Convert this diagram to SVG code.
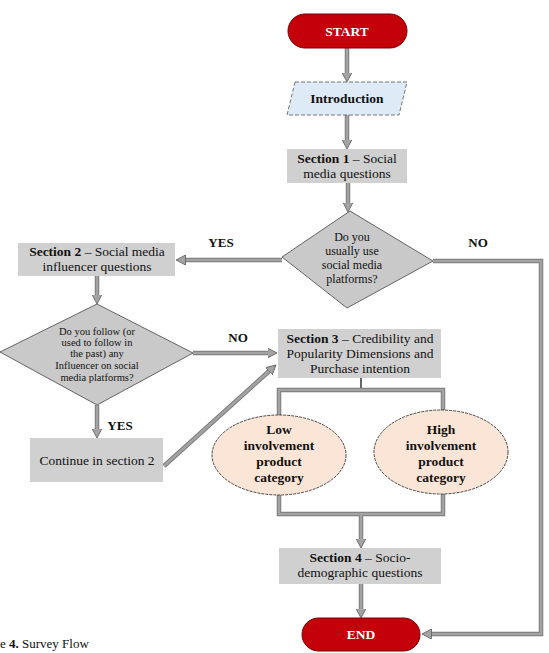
<svg xmlns="http://www.w3.org/2000/svg" width="549" height="653" viewBox="0 0 549 653">
<style>
text{font-family:"Liberation Serif","Times New Roman",serif;fill:#111;text-anchor:middle}
.b{font-weight:bold}
.t13{font-size:13.5px}
.t12{font-size:12px}
.t10{font-size:10.5px}
.term{fill:#c4000a;stroke:#7a0000;stroke-width:1}
.termtxt{fill:#fff;font-weight:bold;font-size:13.5px}
.box{fill:#d0d0d0}
.dia{fill:#c9c9c9;stroke:#444;stroke-width:0.8}
.ell{fill:#fbe5d6;stroke:#333;stroke-width:0.9;stroke-dasharray:3 1}
.par{fill:#deebf7;stroke:#555;stroke-width:0.8;stroke-dasharray:4 2}
.o{fill:none;stroke:#7a7a7a;stroke-width:4.5}
.i{fill:none;stroke:#a3a3a3;stroke-width:2.6}
.lbl{font-weight:bold;font-size:13px}
</style>
<defs>
<marker id="ah" viewBox="0 0 10 10" refX="0.5" refY="5" markerWidth="10" markerHeight="10" markerUnits="userSpaceOnUse" orient="auto">
<path d="M0,0 L9.5,5 L0,10 z" fill="#a3a3a3" stroke="#5a5a5a" stroke-width="0.8"/>
</marker>
</defs>

<g id="connectors">
<path class="o" d="M347,48 V73"/><path class="i" d="M347,48 V73" marker-end="url(#ah)"/>
<path class="o" d="M347,115 V140"/><path class="i" d="M347,115 V140" marker-end="url(#ah)"/>
<path class="o" d="M348,183 V203"/><path class="i" d="M348,183 V203" marker-end="url(#ah)"/>
<path class="o" d="M282,260 H185"/><path class="i" d="M282,260 H185" marker-end="url(#ah)"/>
<path class="o" d="M433,261 H541 V634 H431"/><path class="i" d="M433,261 H541 V634 H431" marker-end="url(#ah)"/>
<path class="o" d="M97,276 V295"/><path class="i" d="M97,276 V295" marker-end="url(#ah)"/>
<path class="o" d="M193,353 H268"/><path class="i" d="M193,353 H268" marker-end="url(#ah)"/>
<path class="o" d="M97,405 V429"/><path class="i" d="M97,405 V429" marker-end="url(#ah)"/>
<path class="o" d="M164,466 L269.3,371"/><path class="i" d="M164,466 L269.3,371" marker-end="url(#ah)"/>
<path d="M361,378 V390" stroke="#333" stroke-width="1.5"/>
<path class="o" d="M279,415 V390 H443 V410"/><path class="i" d="M279,415 V390 H443 V410"/>
<path class="o" d="M279,495 V514 H443 V494 M361,514 V539"/><path class="i" d="M279,495 V514 H443 V494"/>
<path class="i" d="M361,514 V539" marker-end="url(#ah)"/>
<path class="o" d="M361,584 V609"/><path class="i" d="M361,584 V609" marker-end="url(#ah)"/>
<text class="lbl" x="221" y="247">YES</text>
<text class="lbl" x="478" y="247">NO</text>
<text class="lbl" x="238" y="342">NO</text>
<text class="lbl" x="120" y="430">YES</text>
</g>

<g id="start">
<rect class="term" x="288" y="14" width="119" height="34" rx="17"/>
<text class="termtxt" x="347" y="36">START</text>
</g>

<g id="introduction">
<polygon class="par" points="295,82 407,82 399,115 287,115"/>
<text class="t13 b" x="347" y="103">Introduction</text>
</g>

<g id="section1">
<rect class="box" x="287" y="149" width="120" height="34"/>
<text class="t13" x="347" y="163"><tspan class="b">Section 1</tspan> – Social</text>
<text class="t13" x="347" y="178">media questions</text>
</g>

<g id="decision1">
<polygon class="dia" points="350,211 433,261 347,308 282,257"/>
<text class="t12" x="352" y="241">Do you</text>
<text class="t12" x="352" y="255">usually use</text>
<text class="t12" x="352" y="269">social media</text>
<text class="t12" x="352" y="283">platforms?</text>
</g>

<g id="section2">
<rect class="box" x="18" y="243" width="157" height="33"/>
<text class="t13" x="97" y="256"><tspan class="b">Section 2</tspan> – Social media</text>
<text class="t13" x="97" y="271">influencer questions</text>
</g>

<g id="decision2">
<polygon class="dia" points="97,304 193,353 97,405 0,352"/>
<text class="t10" x="97" y="335">Do you follow (or</text>
<text class="t10" x="97" y="346">used to follow in</text>
<text class="t10" x="97" y="357">the past) any</text>
<text class="t10" x="97" y="369">Influencer on social</text>
<text class="t10" x="97" y="381">media platforms?</text>
</g>

<g id="continue">
<rect class="box" x="30" y="438" width="133" height="44"/>
<text class="t13" x="97" y="465">Continue in section 2</text>
</g>

<g id="section3">
<rect class="box" x="278" y="329" width="163" height="49"/>
<text class="t13" x="360" y="343"><tspan class="b">Section 3</tspan> – Credibility and</text>
<text class="t13" x="360" y="358">Popularity Dimensions and</text>
<text class="t13" x="360" y="373">Purchase intention</text>
</g>

<g id="low">
<ellipse class="ell" cx="279" cy="455" rx="67" ry="40"/>
<text class="t13 b" x="279" y="434">Low</text>
<text class="t13 b" x="279" y="450">involvement</text>
<text class="t13 b" x="279" y="466">product</text>
<text class="t13 b" x="279" y="482">category</text>
</g>

<g id="high">
<ellipse class="ell" cx="441" cy="452" rx="67" ry="42"/>
<text class="t13 b" x="441" y="434">High</text>
<text class="t13 b" x="441" y="450">involvement</text>
<text class="t13 b" x="441" y="466">product</text>
<text class="t13 b" x="441" y="482">category</text>
</g>

<g id="section4">
<rect class="box" x="279" y="548" width="162" height="36"/>
<text class="t13" x="360" y="562"><tspan class="b">Section 4</tspan> – Socio-</text>
<text class="t13" x="360" y="577">demographic questions</text>
</g>

<g id="end">
<rect class="term" x="302" y="618" width="118" height="33" rx="16.5"/>
<text class="termtxt" x="361" y="639">END</text>
</g>

<text x="0" y="648" style="text-anchor:start;font-size:13px">e <tspan class="b">4.</tspan> Survey Flow</text>
</svg>
